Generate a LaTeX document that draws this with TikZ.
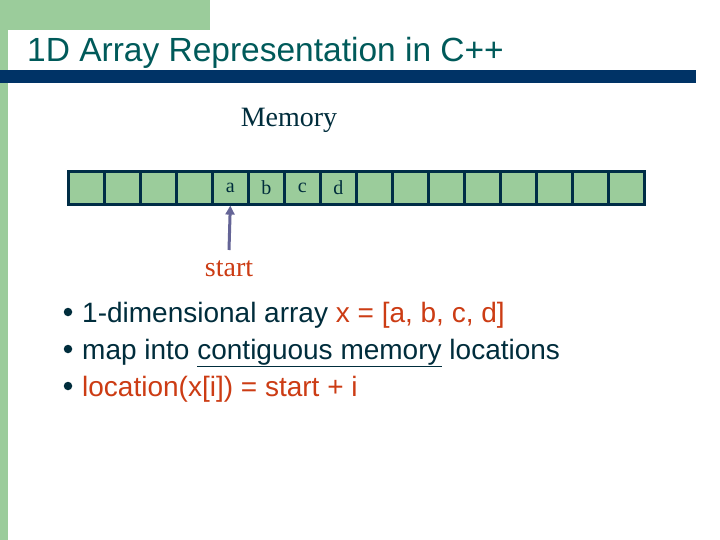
\documentclass[tikz,border=0pt]{standalone}
\usepackage{fontspec}
\setmainfont{Liberation Serif}
\newfontfamily\arialf{Liberation Sans}
\usetikzlibrary{arrows.meta}
\definecolor{bggreen}{RGB}{155,204,155}
\definecolor{barblue}{RGB}{0,51,102}
\definecolor{titleteal}{RGB}{0,90,90}
\definecolor{darktxt}{RGB}{0,45,60}
\definecolor{redtxt}{RGB}{204,60,20}
\definecolor{cellborder}{RGB}{0,45,70}
\definecolor{arrowcol}{RGB}{100,100,150}
\tikzset{
  cell/.style={draw=cellborder, fill=bggreen, line width=2.6pt, minimum width=36pt, minimum height=33pt, inner sep=0pt, anchor=north west, font=\fontsize{20}{20}\selectfont, text=darktxt},
  bullettext/.style={anchor=base west, inner sep=0pt, font=\arialf\fontsize{28}{28}\selectfont, text=darktxt},
  bulletdot/.style={circle, fill=darktxt, inner sep=0pt, minimum size=8.5pt}
}
\begin{document}
\begin{tikzpicture}[x=1pt,y=-1pt]
\useasboundingbox (0,0) rectangle (720,540);
% background
\fill[bggreen] (0,0) rectangle (210,30);
\fill[bggreen] (0,0) rectangle (8,540);
\fill[white] (8,540) -- (8,48) arc[start angle=180, end angle=90, radius=26] -- (720,22) -- (720,540) -- cycle;
% title
\node[anchor=base west, inner sep=0pt, text=titleteal, font=\arialf\fontsize{33.5}{33.5}\selectfont] (title) at (27,62) {1D Array Representation in C++};
\fill[barblue] (0,70) rectangle (696,83);
% memory
\node[inner sep=0pt, anchor=base, text=darktxt, font=\fontsize{28}{28}\selectfont] (mem) at (289,127) {Memory};
% cells
\foreach \i/\t in {0/,1/,2/,3/,4/a,5/b,6/c,7/d,8/,9/,10/,11/,12/,13/,14/,15/} {
  \node[cell] (c\i) at ({67+36*\i},170) {\t};
}
% start
\node[inner sep=0pt, anchor=base, text=redtxt, font=\fontsize{28}{28}\selectfont] (start) at (229,276) {start};
\draw[arrowcol, line width=3pt, -{Triangle[length=9pt,width=9pt]}] (229,250) -- (c4.south);
% bullets
\node[bulletdot] (d1) at (68,312) {};
\node[bulletdot] (d2) at (68,349) {};
\node[bulletdot] (d3) at (68,386) {};
\node[bullettext] (t1) at (82,322) {1-dimensional array \textcolor{redtxt}{x = [a, b, c, d]}};
\node[bullettext] (t2) at (82,359) {map into \underline{contiguous memory} locations};
\node[bullettext, text=redtxt] (t3) at (82,396) {location(x[i]) = start + i};
\end{tikzpicture}
\end{document}
